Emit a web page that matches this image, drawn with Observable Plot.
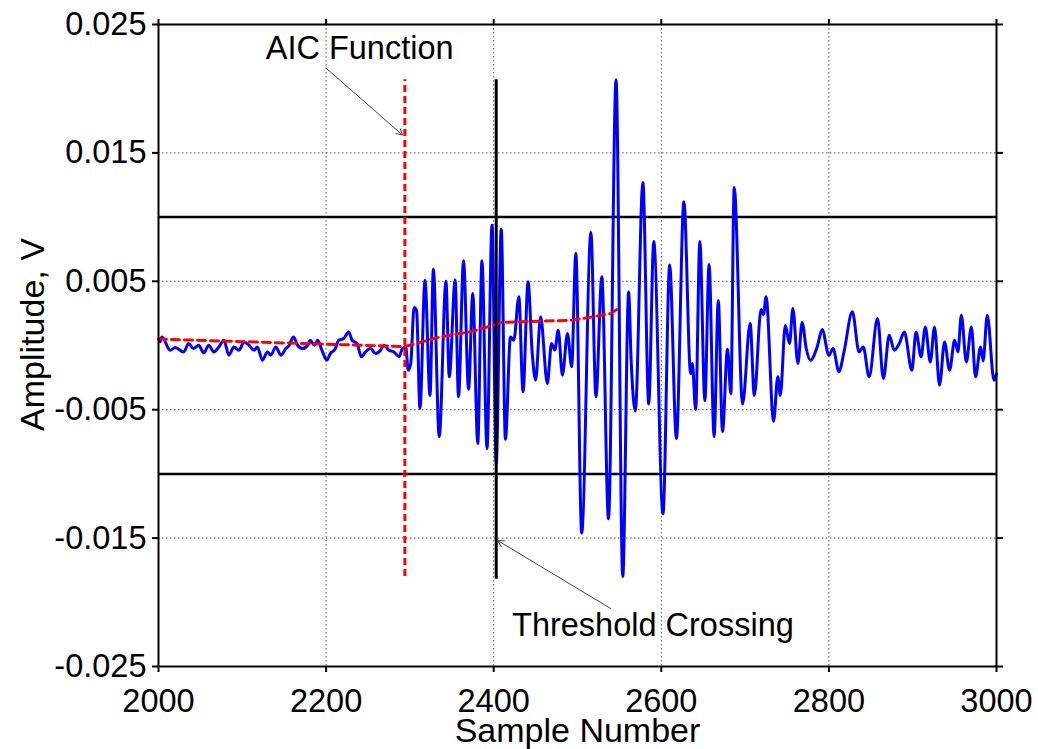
<!DOCTYPE html>
<html>
<head>
<meta charset="utf-8">
<script src="https://cdn.jsdelivr.net/npm/d3@7"></script>
<script src="https://cdn.jsdelivr.net/npm/@observablehq/plot@0.6"></script>
<style>
  html, body { margin: 0; padding: 0; background: #fff; }
  svg { display: block; }
</style>
</head>
<body>
<div id="chart"></div>
<script>
// ---- Data ----
// Blue acoustic-emission waveform: sample numbers and amplitudes in mV
const sampleX = [
  2002,2004,2014,2020,2030,2036,2042,2048,2054,2060,2066,2072,2078,2084,2090,2096,2102,2108,2114,2118,
  2124,2130,2134,2140,2146,2152,2156,2161,2166,2172,2178,2181,2186,2190,2195,2201,2205,2211,2215,2221,
  2227,2231,2237,2242,2247,2253,2259,2265,2269,2275,2281,2287,2291,2295,2298,2301,2305,2308,2312,2318,
  2324,2328,2335,2343,2347,2354,2358,2364,2370,2375,2381,2386,2392,2398,2403,2409,2414,2420,2424,2430,
  2435,2441,2446,2450,2456,2464,2469,2473,2477,2482,2488,2493,2498,2505,2516,2522,2529,2537,2546,2554,
  2561,2564,2569,2578,2585,2591,2602,2610,2618,2627,2635,2637,2641,2646,2652,2657,2663,2668,2673,2679,
  2683,2687,2697,2706,2711,2719,2722,2725,2734,2739,2742,2748,2753,2757,2763,2768,2773,2778,2786,2792,
  2800,2805,2812,2818,2828,2836,2841,2848,2858,2865,2872,2878,2884,2890,2899,2904,2910,2915,2921,2926,
  2932,2938,2944,2950,2954,2958,2964,2970,2975,2981,2984,2989,2997,3000
];
const amplitudeMV = [
  0.3,0.67,-0.37,-0.16,-0.5,0.15,-0.24,0.02,-0.57,0.02,-0.5,-0.11,0.41,-0.75,-0.11,-0.37,0.28,0.02,-0.37,-0.11,
  -1.14,-0.5,-0.75,-0.11,-0.75,-0.24,0.02,0.67,0.02,-0.24,0.02,0.41,0.02,0.41,-0.37,-1.14,-0.63,-0.24,0.41,0.54,
  1.06,0.41,0.15,-0.88,-0.5,-0.24,-0.63,-0.37,0.02,-0.37,-0.5,-0.88,-0.24,-0.11,-1.92,-1.4,2.95,2.7,-4.9,5.09,
  -3.9,5.95,-7.11,5.0,-2.44,5.1,-4.0,6.6,-3.4,4.05,-7.63,6.6,-8.02,9.37,-9.2,9.05,-7.3,0.67,0.41,3.79,
  -3.61,4.96,-0.62,-2.7,2.23,-2.96,0.16,-0.36,1.19,-2.31,0.93,-1.66,7.16,-14.6,8.8,-4.0,5.35,-13.5,20.7,-18.0,
  4.16,-1.15,-5.1,12.7,-4.55,8.1,-13.1,6.27,-7.25,11.2,-2.2,-1.4,-5.0,8.1,-4.3,6.3,-7.1,3.5,-6.7,-0.3,
  -3.75,12.3,-4.55,1.71,-3.9,2.8,2.4,3.8,-5.9,-2.44,-3.9,1.58,0.15,2.88,-1.41,1.8,-0.25,-1.15,-0.11,1.24,
  -0.76,-0.24,-2.05,-0.5,2.62,-0.5,-0.11,-2.44,2.1,-2.57,0.8,-0.37,0.15,1.06,-1.93,1.06,-0.89,1.45,-1.28,1.45,
  -3.09,0.28,-1.93,0.41,-0.5,2.36,-1.28,1.45,-2.44,-0.11,-1.2,2.36,-2.7,-2.2
];
// Red dashed AIC function curve (mV)
const aicX  = [2000, 2100, 2200, 2294, 2310, 2336, 2362, 2380, 2400, 2410, 2440, 2494, 2520, 2540, 2550];
const aicMV = [0.5, 0.3, 0.1, -0.08, 0.2, 0.67, 0.95, 1.2, 1.6, 1.8, 1.86, 1.97, 2.25, 2.5, 2.95];
// Thresholds (V) and picked onset samples
const thresholdLevels = [0.01, -0.01];
const aicPickSample = 2294;
const thresholdPickSample = 2403;
const pickLineRange = [-0.018, 0.0207];
// Axis ticks
const xTicks = [2000, 2200, 2400, 2600, 2800, 3000];
const yTicks = [-0.025, -0.015, -0.005, 0.005, 0.015, 0.025];
const xGrid = [2200, 2400, 2600, 2800];
const yGrid = [-0.015, -0.005, 0.005, 0.015];
// Annotations
const annotations = [
  {label: "AIC Function", x: 2240, y: 0.0231, ax1: 2200, ay1: 0.0216, ax2: 2291, ay2: 0.0164},
  {label: "Threshold Crossing", x: 2590, y: -0.0218, ax1: 2540, ay1: -0.0205, ax2: 2405, ay2: -0.0152}
];

// ---- Tables built from the arrays ----
const signal = sampleX.map((x, i) => ({x, y: amplitudeMV[i] / 1000}));
const aic = aicX.map((x, i) => ({x, y: aicMV[i] / 1000}));

const FONT = "Liberation Sans, Arial, Helvetica, sans-serif";
const FS = 32.5;      // tick labels and annotations
const TITLE_FS = 34;  // axis titles

const chart = Plot.plot({
  width: 1038,
  height: 749,
  marginLeft: 158,
  marginRight: 42,
  marginTop: 24,
  marginBottom: 83,
  style: {fontFamily: FONT, fontSize: FS + "px", background: "white", color: "black", overflow: "visible"},
  x: {domain: [2000, 3000]},
  y: {domain: [-0.025, 0.025]},
  marks: [
    Plot.gridX(xGrid, {stroke: "#555", strokeOpacity: 1, strokeWidth: 1, strokeDasharray: "1.5,2.5"}),
    Plot.gridY(yGrid, {stroke: "#555", strokeOpacity: 1, strokeWidth: 1, strokeDasharray: "1.5,2.5"}),
    Plot.ruleY(thresholdLevels, {stroke: "black", strokeWidth: 2.5}),
    Plot.line(signal, {x: "x", y: "y", stroke: "#0000ff", strokeWidth: 3, curve: "monotone-x"}),
    Plot.line(aic, {x: "x", y: "y", stroke: "#ff0000", strokeWidth: 3, strokeDasharray: "8,5"}),
    Plot.ruleX([aicPickSample], {y1: pickLineRange[0], y2: pickLineRange[1], stroke: "#ff0000", strokeWidth: 3, strokeDasharray: "7,4"}),
    Plot.ruleX([thresholdPickSample], {y1: pickLineRange[0] - 0.0002, y2: pickLineRange[1], stroke: "black", strokeWidth: 3}),
    Plot.arrow(annotations, {x1: "ax1", y1: "ay1", x2: "ax2", y2: "ay2", stroke: "#444", strokeWidth: 1, headLength: 10}),
    Plot.text(annotations, {x: "x", y: "y", text: "label", fontSize: FS, fill: "black"}),
    Plot.frame({stroke: "black", strokeWidth: 2}),
    Plot.axisX({ticks: xTicks, tickSize: 6, tickPadding: 16, strokeWidth: 2, tickFormat: d => String(d), label: null, fontSize: FS}),
    Plot.axisX({anchor: "top", ticks: xTicks, tickSize: 6, strokeWidth: 2, tickFormat: () => "", label: null}),
    Plot.axisY({ticks: yTicks, tickSize: 6, tickPadding: 6, strokeWidth: 2, tickFormat: d => d.toFixed(3), label: null, fontSize: FS}),
    Plot.axisY({anchor: "right", ticks: yTicks, tickSize: 6, strokeWidth: 2, tickFormat: () => "", label: null}),
    Plot.text(["Sample Number"], {frameAnchor: "bottom", textAnchor: "middle", lineAnchor: "bottom", dx: 0, dy: 75, text: d => d, fontSize: TITLE_FS, fill: "black"}),
    Plot.text(["Amplitude, V"], {frameAnchor: "left", textAnchor: "middle", lineAnchor: "middle", rotate: -90, dx: -125, dy: -11, text: d => d, fontSize: TITLE_FS, fill: "black"})
  ]
});
document.getElementById("chart").appendChild(chart);
</script>
</body>
</html>
